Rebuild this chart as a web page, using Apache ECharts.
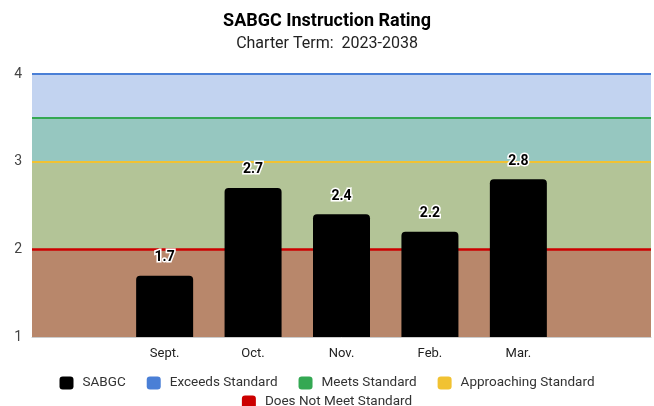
<!DOCTYPE html>
<html>
<head>
<meta charset="utf-8">
<script src="https://cdn.jsdelivr.net/npm/echarts@6/dist/echarts.min.js"></script>
<style>
  html, body { margin: 0; padding: 0; background: #fff; }
  #chart { width: 654px; height: 406px; }
</style>
</head>
<body>
<div id="chart"></div>
<script>
const months = ['', 'Sept.', 'Oct.', 'Nov.', 'Feb.', 'Mar.', '']
const ratings = [null, 1.7, 2.7, 2.4, 2.2, 2.8, null]
const yTicks = [1, 2, 3, 4]

// standard name, line value, band [from, to], line color, band color
const standards = [
	['Exceeds Standard', 4, [3.5, 4], '#4a7fd6', '#c2d3f0'],
	['Meets Standard', 3.5, [3, 3.5], '#34a853', '#96c7c0'],
	['Approaching Standard', 3, [2, 3], '#f1c232', '#b3c497'],
	['Does Not Meet Standard', 2, [1, 2], '#cc0000', '#b8876b'],
]

const chart = echarts.init(document.getElementById('chart'))

const standardSeries = standards.map(([name, value, band, lineColor, bandColor]) => ({
	name,
	type: 'line',
	data: months.map(() => null),
	itemStyle: { color: lineColor },
	lineStyle: { color: lineColor },
	symbol: 'none',
	silent: true,
	z: 1,
	markArea: {
		silent: true,
		itemStyle: { color: bandColor },
		data: [[{ yAxis: band[0] }, { yAxis: band[1] }]],
	},
	markLine: {
		silent: true,
		symbol: 'none',
		label: { show: false },
		lineStyle: { color: lineColor, type: 'solid', width: value === 2 ? 2.5 : 2 },
		data: [{ yAxis: value }],
	},
}))

// two legend rows, both centred
const legendBase = {
	left: 'center',
	itemWidth: 14,
	itemHeight: 13,
	itemGap: 21,
	icon: 'roundRect',
	textStyle: { fontSize: 13.5, color: '#333', padding: [0, 0, 0, 4] },
}

chart.setOption({
	textStyle: { fontFamily: 'Roboto' },
	title: {
		text: 'SABGC Instruction Rating',
		subtext: 'Charter Term:  2023-2038',
		left: 'center',
		top: 7,
		itemGap: 6,
		textStyle: { fontSize: 18, fontWeight: 'bold', color: '#000' },
		subtextStyle: { fontSize: 16, color: '#222' },
	},
	legend: [
		{ ...legendBase, top: 371, data: ['SABGC', ...standards.slice(0, 3).map(s => s[0])] },
		{ ...legendBase, top: 390, data: [standards[3][0]] },
	],
	grid: { left: 32, right: 3, top: 74, bottom: 69 },
	xAxis: {
		type: 'category',
		data: months,
		axisTick: { show: false },
		axisLine: { lineStyle: { color: '#ccc' } },
		axisLabel: { color: '#222', fontSize: 13, margin: 10, interval: 0 },
	},
	yAxis: {
		type: 'value',
		min: yTicks[0],
		max: yTicks[yTicks.length - 1],
		interval: 1,
		splitLine: { show: false },
		axisLabel: { color: '#444', fontSize: 14, margin: 10 },
	},
	series: [
		{
			name: 'SABGC',
			type: 'bar',
			data: ratings,
			barWidth: 57,
			z: 5,
			itemStyle: { color: '#000', borderRadius: [4, 4, 0, 0] },
			label: {
				show: true,
				position: 'top',
				distance: 11,
				fontSize: 14,
				fontWeight: 'bold',
				color: '#000',
				textBorderColor: '#fff',
				textBorderWidth: 3,
			},
		},
		...standardSeries,
	],
})
</script>
</body>
</html>
